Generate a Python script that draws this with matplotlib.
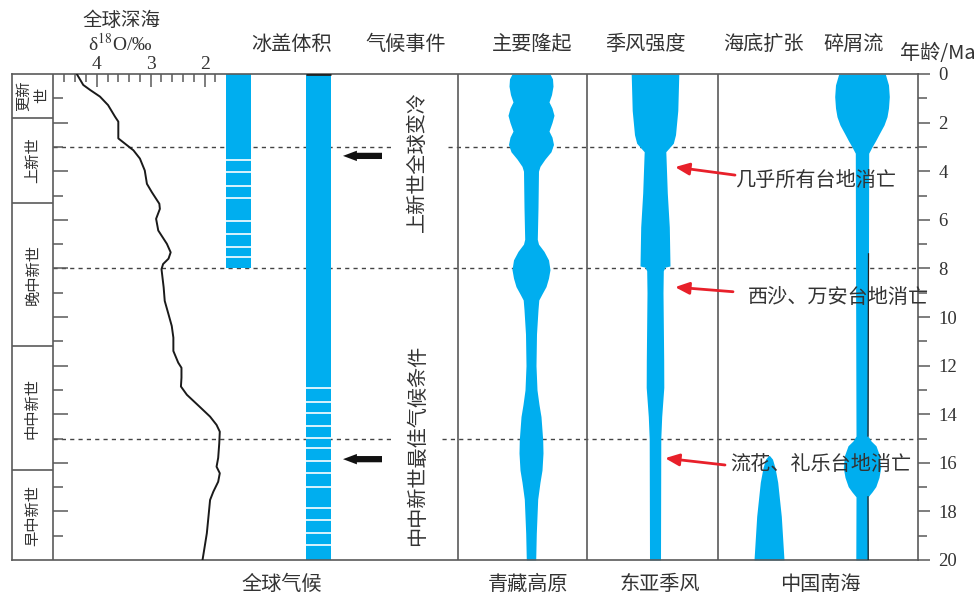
import numpy as np
import matplotlib.pyplot as plt

plt.rcParams['font.family'] = ['Noto Sans CJK SC', 'DejaVu Sans']
plt.rcParams['mathtext.fontset'] = 'stix'

W, H = 976, 597
TOP, BOT = 74, 560          # frame top / bottom (px)
LEFT, RIGHT = 12, 918       # frame left / right (px)

BLUE = '#00AEEF'
EDGE = '#5a5a5a'
TXT = '#333333'
RED = '#E8202A'

# geological time scale (Ma)
epoch_names = ["更新\n世", "上新世", "晚中新世", "中中新世", "早中新世"]
epoch_bounds = [0, 1.8, 5.3, 11.2, 16.3, 20]

# deep-sea benthic d18O record
d18o_age = [0.0, 0.11, 0.45, 0.66, 0.93, 1.28, 1.76, 1.96, 2.65, 2.86,
            3.14, 3.48, 3.97, 4.52, 4.86, 5.34, 5.55, 5.96, 6.44, 6.99,
            7.34, 7.6, 7.82, 8.03, 8.78, 9.34, 9.89, 10.37, 10.85, 11.4,
            11.88, 12.09, 12.5, 12.86, 13.2, 13.7, 14.1, 14.44, 14.72, 15.2,
            15.8, 16.16, 16.43, 16.78, 17.19, 17.53, 18.22, 18.9, 19.59, 20.0]
d18o_val = [4.37, 4.34, 4.25, 4.12, 3.94, 3.79, 3.66, 3.60, 3.60, 3.48,
            3.32, 3.20, 3.11, 3.07, 2.98, 2.84, 2.83, 2.90, 2.86, 2.70,
            2.63, 2.67, 2.77, 2.80, 2.76, 2.74, 2.67, 2.61, 2.58, 2.58,
            2.49, 2.43, 2.43, 2.44, 2.33, 2.09, 1.90, 1.78, 1.72, 1.73,
            1.75, 1.78, 1.72, 1.75, 1.84, 1.90, 1.93, 1.96, 2.01, 2.04]

# ice volume and global climate bars (Ma)
ice_span = (0, 8)
ice_breaks = [3.55, 4.05, 4.6, 5.1, 6.05, 6.6, 7.1, 7.55]
clim_span = (0, 20)
clim_breaks = [12.93, 13.49, 13.96, 14.49, 14.99, 15.4, 15.93, 16.43,
               16.98, 17.87, 18.35, 18.9, 19.38]

event_names = ["上新世全球变冷", "中中新世最佳气候条件"]
event_mid = [3.6, 15.27]
event_arrow = [3.37, 15.85]

# Tibetan uplift intensity (half-width)
tibet_age = [0.0, 0.2, 0.5, 0.85, 1.15, 1.4, 1.7, 2.0, 2.35, 2.6, 2.9, 3.2,
             3.5, 3.8, 4.0, 5.5, 6.8, 7.0, 7.3, 7.65, 8.05, 8.4, 8.75, 9.05,
             9.3, 9.7, 10.7, 12.0, 13.0, 13.6, 14.1, 15.05, 15.6, 16.3, 16.8,
             17.5, 18.9, 20.0]
tibet_half = [19, 21.5, 22, 20.5, 18, 21, 23, 21, 18, 21, 22.5, 20,
              14, 9, 7.5, 7, 6.3, 7.5, 13, 17.5, 19, 17.5, 15, 11,
              7.8, 7, 5.5, 5, 6, 8, 10, 11.7, 12, 11, 9,
              6.7, 5.3, 4.7]

# East Asian monsoon intensity (half-width)
monsoon_age = [0.0, 1.5, 2.5, 2.85, 3.05, 3.2, 3.4, 4.9, 6.3, 7.9, 7.95,
               8.1, 9.0, 11.8, 12.9, 14.1, 15.0, 20.0]
monsoon_half = [23.8, 22.8, 20.5, 18.3, 14, 10.8, 11, 12.3, 14.3, 15, 10,
                8.3, 8, 8.7, 8.8, 6.7, 5.8, 5.5]

# South China Sea: seafloor spreading and debris flow (half-width)
spread_age = [15.7, 15.85, 16.2, 16.8, 18.2, 20.0]
spread_half = [0.5, 3.5, 6, 8.7, 12.3, 15]
debris_age = [0.0, 0.45, 0.93, 1.4, 1.76, 2.1, 2.44, 2.75, 3.0, 3.26, 7.4,
              14.9, 15.1, 15.3, 15.7, 16.2, 16.6, 16.98, 17.2, 17.4, 20.0]
debris_half = [23.3, 26.5, 27.3, 26.5, 25, 22, 17.5, 13.5, 10, 6.7, 6.5,
               6, 9, 14, 17.5, 18.7, 17, 13.8, 10, 6, 6.2]

platform_names = ["几乎所有台地消亡", "西沙、万安台地消亡", "流花、礼乐台地消亡"]
platform_head = [3.83, 8.77, 15.81]
platform_tail = [4.16, 8.96, 16.09]
platform_text = [4.36, 9.18, 16.09]

fig = plt.figure(figsize=(W / 100, H / 100), dpi=100)


def box(x0, x1):
    return [x0 / W, 1 - BOT / H, (x1 - x0) / W, (BOT - TOP) / H]


def ftext(x, y, s, **kw):
    kw.setdefault('color', TXT)
    fig.text(x / W, 1 - y / H, s, **kw)


# main frame: x in px, y in Ma
ax = fig.add_axes(box(LEFT, RIGHT))
ax.set_xlim(LEFT, RIGHT)
ax.set_ylim(20, 0)
ax.patch.set_alpha(0)
for s in ax.spines.values():
    s.set_color(EDGE)
    s.set_linewidth(1.2)
ax.set_xticks([])
ax.yaxis.tick_right()
ax.set_yticks(range(0, 21, 2))
ax.set_yticks(range(1, 20, 2), minor=True)
ax.tick_params(axis='y', which='major', direction='out', length=8.5, width=1.1,
               color=EDGE, pad=6, labelsize=13.5, labelcolor=TXT)
ax.tick_params(axis='y', which='minor', direction='out', length=6.5, width=1.1,
               color=EDGE)
for lab in ax.get_yticklabels():
    lab.set_family('Liberation Serif')

# panel separators
for xv in [53, 458, 587, 718]:
    ax.axvline(xv, color=EDGE, lw=1.2, zorder=4)

# epoch column
ax.hlines(epoch_bounds[1:-1], LEFT, 53, color=EDGE, lw=1.2)
for i, name in enumerate(epoch_names):
    mid = (epoch_bounds[i] + epoch_bounds[i + 1]) / 2
    ax.text(32.5, mid, name, rotation=90, ha='center', va='center',
            multialignment='center', fontsize=11, color=TXT, linespacing=1.1)

# dashed reference lines (gaps leave room for the vertical labels)
for y, x0, x1 in [(3, 53, 393), (3, 448, RIGHT), (8, 53, RIGHT),
                  (15, 53, 393), (15, 442, RIGHT)]:
    ax.plot([x0, x1], [y, y], color='#444444', lw=1, ls=(0, (3, 3)), zorder=1)

# ice volume and global climate
ICE_X, CLIM_X, COL_W = 238.5, 318.5, 25
ax.bar(ICE_X, ice_span[1] - ice_span[0], bottom=ice_span[0], width=COL_W,
       color=BLUE, zorder=2)
ax.hlines(ice_breaks, ICE_X - COL_W / 2, ICE_X + COL_W / 2, color='white',
          lw=1.2, zorder=3)
ax.bar(CLIM_X, clim_span[1] - clim_span[0], bottom=clim_span[0], width=COL_W,
       color=BLUE, zorder=2)
ax.hlines(clim_breaks, CLIM_X - COL_W / 2, CLIM_X + COL_W / 2, color='white',
          lw=1.2, zorder=3)
ax.hlines(clim_span[0], CLIM_X - COL_W / 2, CLIM_X + COL_W / 2,
          color='#222222', lw=2, zorder=4)

for name, mid, ya in zip(event_names, event_mid, event_arrow):
    ax.text(417, mid, name, rotation=90, ha='center', va='center',
            fontsize=14.5, color=TXT)
    ax.annotate('', xy=(343, ya), xytext=(382, ya),
                arrowprops=dict(arrowstyle='simple,head_length=1.0,head_width=0.75,tail_width=0.45',
                                mutation_scale=10, color='#111111', lw=0,
                                shrinkA=0, shrinkB=0))

# profile columns
TIBET_X, MONSOON_X, SPREAD_X, DEBRIS_X = 531, 655, 769, 862


def column(x, age, half):
    age = np.asarray(age)
    half = np.asarray(half)
    ax.fill_betweenx(age, x - half, x + half, color=BLUE, lw=0, zorder=2)


column(TIBET_X, tibet_age, tibet_half)
column(MONSOON_X, monsoon_age, monsoon_half)
column(SPREAD_X, spread_age, spread_half)
column(DEBRIS_X, debris_age, debris_half)

# dark edge along the debris-flow stem
d_age = np.asarray(debris_age)
d_half = np.asarray(debris_half)
for lo, hi in [(7.4, 14.9), (17.4, 20.0)]:
    m = (d_age >= lo) & (d_age <= hi)
    ax.plot(DEBRIS_X + d_half[m], d_age[m], color='#222222', lw=0.9, zorder=3)

# carbonate platform drowning events
for name, yh, yt, ytx, xh, xt, xtx in zip(platform_names, platform_head,
                                         platform_tail, platform_text,
                                         [675, 675, 665], [735, 733, 725],
                                         [735, 748, 730]):
    ax.annotate('', xy=(xh, yh), xytext=(xt, yt),
                arrowprops=dict(arrowstyle='-|>,head_length=0.7,head_width=0.3',
                                mutation_scale=12, color=RED, lw=2,
                                shrinkA=0, shrinkB=0), zorder=5)
    ax.text(xtx, ytx, name, ha='left', va='center', fontsize=14.5, color=TXT,
            zorder=5)

# d18O panel
axo = fig.add_axes(box(53, 226))
axo.set_xlim(4.81, 1.605)
axo.set_ylim(20, 0)
axo.patch.set_alpha(0)
for s in axo.spines.values():
    s.set_visible(False)
axo.xaxis.tick_top()
axo.set_xticks([4, 3, 2])
axo.set_xticks(np.round(np.arange(1.8, 4.61, 0.2), 1), minor=True)
axo.tick_params(axis='x', which='major', direction='in', length=9, width=1.1,
                color=EDGE, pad=1, labelsize=14, labelcolor=TXT)
axo.tick_params(axis='x', which='minor', direction='in', length=6, width=1.1,
                color=EDGE)
for lab in axo.get_xticklabels():
    lab.set_family('Liberation Serif')
axo.set_yticks(range(2, 20, 2))
axo.set_yticks(range(1, 20, 2), minor=True)
axo.tick_params(axis='y', which='major', direction='in', length=11, width=1.1,
                color=EDGE, labelleft=False)
axo.tick_params(axis='y', which='minor', direction='in', length=7, width=1.1,
                color=EDGE)
axo.plot(d18o_val, d18o_age, color='#1a1a1a', lw=1.4)

# headers
ftext(121, 20, "全球深海", ha='center', va='center', fontsize=14)
ftext(120, 44, r"δ$^{18}$O/‰", ha='center', va='center', fontsize=14,
      family='Liberation Serif')
for x, s in [(291, "冰盖体积"), (406, "气候事件"), (532, "主要隆起"),
             (646, "季风强度"), (763, "海底扩张"), (854, "碎屑流")]:
    ftext(x, 44, s, ha='center', va='center', fontsize=14.5)
ftext(900, 53, "年龄/Ma", ha='left', va='center', fontsize=14.5)

for x, s in [(282, "全球气候"), (528, "青藏高原"), (660, "东亚季风"),
             (820, "中国南海")]:
    ftext(x, 584, s, ha='center', va='center', fontsize=14.5)

fig.savefig('out.png', dpi=100, facecolor='white')
